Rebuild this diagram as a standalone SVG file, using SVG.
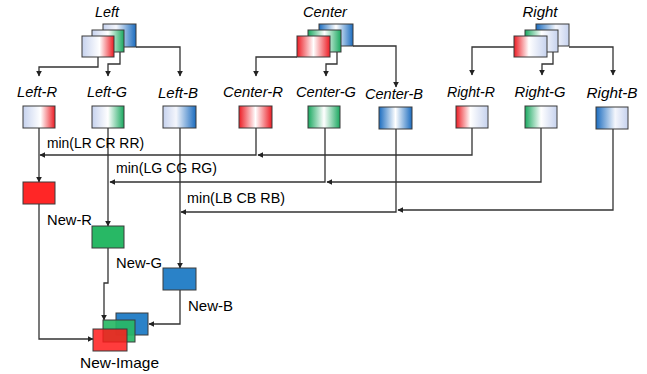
<svg xmlns="http://www.w3.org/2000/svg" width="647" height="374" viewBox="0 0 647 374">
<style>
.lbl{font-family:"Liberation Sans",Arial,sans-serif;font-size:15px;font-style:italic;fill:#000;text-anchor:middle}
.txt{font-family:"Liberation Sans",Arial,sans-serif;font-size:15px;fill:#000}
.box{stroke:#3a3a3a;stroke-width:1}
.con{fill:none;stroke:#333;stroke-width:1.3}
</style>
<defs>
<marker id="ah" viewBox="0 0 10 10" refX="9" refY="5" markerWidth="6" markerHeight="6" orient="auto" markerUnits="userSpaceOnUse"><path d="M0,0 L10,5 L0,10 z" fill="#222"/></marker>
<linearGradient id="lr"><stop offset="0" stop-color="#c6d2ee"/><stop offset="0.55" stop-color="#fff"/><stop offset="1" stop-color="#ec1c24"/></linearGradient>
<linearGradient id="lg"><stop offset="0" stop-color="#c6d2ee"/><stop offset="0.5" stop-color="#fff"/><stop offset="1" stop-color="#1aa860"/></linearGradient>
<linearGradient id="lb"><stop offset="0" stop-color="#c6d2ee"/><stop offset="0.4" stop-color="#f4f6fc"/><stop offset="1" stop-color="#1b6cbf"/></linearGradient>
<linearGradient id="cr"><stop offset="0" stop-color="#ec1c24"/><stop offset="0.5" stop-color="#fff"/><stop offset="1" stop-color="#ec1c24"/></linearGradient>
<linearGradient id="cg"><stop offset="0" stop-color="#1aa860"/><stop offset="0.5" stop-color="#fff"/><stop offset="1" stop-color="#1aa860"/></linearGradient>
<linearGradient id="cb"><stop offset="0" stop-color="#1b6cbf"/><stop offset="0.5" stop-color="#fff"/><stop offset="1" stop-color="#1b6cbf"/></linearGradient>
<linearGradient id="rr"><stop offset="0" stop-color="#ec1c24"/><stop offset="0.45" stop-color="#fff"/><stop offset="1" stop-color="#c6d2ee"/></linearGradient>
<linearGradient id="rg"><stop offset="0" stop-color="#1aa860"/><stop offset="0.5" stop-color="#fff"/><stop offset="1" stop-color="#c6d2ee"/></linearGradient>
<linearGradient id="rb"><stop offset="0" stop-color="#1b6cbf"/><stop offset="0.6" stop-color="#f4f6fc"/><stop offset="1" stop-color="#c6d2ee"/></linearGradient>
</defs>

<g id="connectors">
<path class="con" d="M98,57 V67 H39 V76" marker-end="url(#ah)"/>
<path class="con" d="M120,52 V64 H108 V76" marker-end="url(#ah)"/>
<path class="con" d="M136,47 H180 V76" marker-end="url(#ah)"/>
<path class="con" d="M297,57 H256 V76" marker-end="url(#ah)"/>
<path class="con" d="M337,52 V64 H326 V76" marker-end="url(#ah)"/>
<path class="con" d="M353,46 H396 V87" marker-end="url(#ah)"/>
<path class="con" d="M514,47 H472 V75" marker-end="url(#ah)"/>
<path class="con" d="M569,47 H613 V75" marker-end="url(#ah)"/>
<path class="con" d="M553,52 V64 H542 V75" marker-end="url(#ah)"/>

<path class="con" d="M472,128 V155 H258" marker-end="url(#ah)"/>
<path class="con" d="M256,128 V155 H40" marker-end="url(#ah)"/>
<path class="con" d="M39,128 V182" marker-end="url(#ah)"/>
<path class="con" d="M541,128 V182 H327" marker-end="url(#ah)"/>
<path class="con" d="M325,128 V182 H110" marker-end="url(#ah)"/>
<path class="con" d="M108,128 V226" marker-end="url(#ah)"/>
<path class="con" d="M613,128 V210 H398" marker-end="url(#ah)"/>
<path class="con" d="M396,129 V212 H181" marker-end="url(#ah)"/>
<path class="con" d="M180,128 V268" marker-end="url(#ah)"/>
<path class="con" d="M39,204 V339 H93" marker-end="url(#ah)"/>
<path class="con" d="M108,248 V283 H104 V320" marker-end="url(#ah)"/>
<path class="con" d="M180,290 V324 H149" marker-end="url(#ah)"/>
</g>

<g id="left">
<text class="lbl" x="107" y="17" textLength="24" lengthAdjust="spacingAndGlyphs">Left</text>
<rect class="box" x="103" y="24" width="33" height="23" fill="url(#lb)"/>
<rect class="box" x="92" y="30" width="32" height="22" fill="url(#lg)"/>
<rect class="box" x="82" y="36" width="32" height="21" fill="url(#lr)"/>
</g>
<g id="center">
<text class="lbl" x="325" y="17" textLength="44" lengthAdjust="spacingAndGlyphs">Center</text>
<rect class="box" x="319" y="24" width="34" height="22" fill="url(#cb)"/>
<rect class="box" x="308" y="30" width="33" height="22" fill="url(#cg)"/>
<rect class="box" x="297" y="36" width="33" height="21" fill="url(#cr)"/>
</g>
<g id="right">
<text class="lbl" x="540" y="17" textLength="35" lengthAdjust="spacingAndGlyphs">Right</text>
<rect class="box" x="536" y="24" width="33" height="22" fill="url(#rb)"/>
<rect class="box" x="525" y="30" width="33" height="22" fill="url(#rg)"/>
<rect class="box" x="514" y="36" width="33" height="21" fill="url(#rr)"/>
</g>

<g id="left-r"><text class="lbl" x="37" y="97" textLength="40" lengthAdjust="spacingAndGlyphs">Left-R</text><rect class="box" x="23" y="106" width="32" height="22" fill="url(#lr)"/></g>
<g id="left-g"><text class="lbl" x="107" y="97" textLength="40" lengthAdjust="spacingAndGlyphs">Left-G</text><rect class="box" x="92" y="106" width="32" height="22" fill="url(#lg)"/></g>
<g id="left-b"><text class="lbl" x="178" y="98" textLength="40" lengthAdjust="spacingAndGlyphs">Left-B</text><rect class="box" x="163" y="106" width="33" height="22" fill="url(#lb)"/></g>
<g id="center-r"><text class="lbl" x="253" y="97" textLength="60" lengthAdjust="spacingAndGlyphs">Center-R</text><rect class="box" x="239" y="106" width="33" height="22" fill="url(#cr)"/></g>
<g id="center-g"><text class="lbl" x="326" y="97" textLength="60" lengthAdjust="spacingAndGlyphs">Center-G</text><rect class="box" x="308" y="106" width="32" height="22" fill="url(#cg)"/></g>
<g id="center-b"><text class="lbl" x="394" y="99" textLength="58" lengthAdjust="spacingAndGlyphs">Center-B</text><rect class="box" x="379" y="107" width="33" height="22" fill="url(#cb)"/></g>
<g id="right-r"><text class="lbl" x="471" y="97" textLength="48" lengthAdjust="spacingAndGlyphs">Right-R</text><rect class="box" x="456" y="106" width="32" height="22" fill="url(#rr)"/></g>
<g id="right-g"><text class="lbl" x="540" y="97" textLength="51" lengthAdjust="spacingAndGlyphs">Right-G</text><rect class="box" x="525" y="106" width="32" height="22" fill="url(#rg)"/></g>
<g id="right-b"><text class="lbl" x="612" y="98" textLength="51" lengthAdjust="spacingAndGlyphs">Right-B</text><rect class="box" x="596" y="107" width="32" height="22" fill="url(#rb)"/></g>

<g id="min-labels">
<text class="txt" x="47" y="148" textLength="97" lengthAdjust="spacingAndGlyphs">min(LR CR RR)</text>
<text class="txt" x="116" y="173" textLength="101" lengthAdjust="spacingAndGlyphs">min(LG CG RG)</text>
<text class="txt" x="187" y="203" textLength="98" lengthAdjust="spacingAndGlyphs">min(LB CB RB)</text>
</g>

<g id="new-r"><rect class="box" x="23" y="182" width="32" height="22" fill="#ff2626"/><text class="txt" x="47" y="225" textLength="45" lengthAdjust="spacingAndGlyphs">New-R</text></g>
<g id="new-g"><rect class="box" x="92" y="226" width="32" height="22" fill="#28b865"/><text class="txt" x="116" y="268" textLength="46" lengthAdjust="spacingAndGlyphs">New-G</text></g>
<g id="new-b"><rect class="box" x="163" y="268" width="33" height="22" fill="#2a82c8"/><text class="txt" x="188" y="311" textLength="45" lengthAdjust="spacingAndGlyphs">New-B</text></g>

<g id="new-image">
<rect class="box" x="116" y="313" width="32" height="22" fill="#2a82c8"/>
<rect class="box" x="103" y="320" width="32" height="22" fill="#28b865" fill-opacity="0.92"/>
<rect class="box" x="93" y="329" width="34" height="22" fill="#ff1a1a" fill-opacity="0.85"/>
<text class="txt" x="80" y="368" textLength="79" lengthAdjust="spacingAndGlyphs">New-Image</text>
</g>
</svg>
